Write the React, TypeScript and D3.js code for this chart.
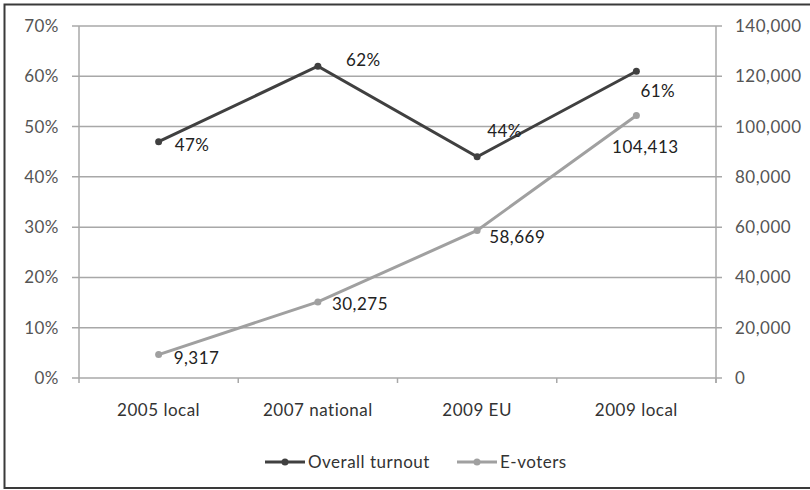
import React from "react";
import * as d3 from "d3";

const categories = ["2005 local", "2007 national", "2009 EU", "2009 local"];
const turnout = [0.47, 0.62, 0.44, 0.61];
const eVoters = [9317, 30275, 58669, 104413];
const leftTicks = [0, 0.1, 0.2, 0.3, 0.4, 0.5, 0.6, 0.7];
const rightTicks = [0, 20000, 40000, 60000, 80000, 100000, 120000, 140000];
const seriesNames = ["Overall turnout", "E-voters"];

const W = 810;
const H = 490;
const FONT = "Lato, 'Open Sans', sans-serif";
const FS = 17;
const LS = 0.5;
const DARK = "#404040";
const LIGHT = "#a0a0a0";
const GRID = "#a8a8a8";
const TICK_TEXT = "#555";

// label placement per point: [dx, dy, anchor]
const turnoutLabelPos: [number, number, string][] = [
  [16, 3, "start"],
  [28, -6, "start"],
  [10, -26, "start"],
  [4, 20, "start"],
];
const eVoterLabelPos: [number, number, string][] = [
  [15, 3, "start"],
  [14, 2, "start"],
  [12, 7, "start"],
  [9, 32, "middle"],
];

export default function App() {
  const left = 79;
  const right = 716;
  const top = 26;
  const bottom = 378;

  const x = d3.scaleBand<string>().domain(categories).range([left, right]);
  const yL = d3.scaleLinear().domain([0, 0.7]).range([bottom, top]);
  const yR = d3.scaleLinear().domain([0, 140000]).range([bottom, top]);
  const cx = (c: string) => (x(c) as number) + x.bandwidth() / 2;

  const turnoutLine = d3
    .line<number>()
    .x((_, i) => cx(categories[i]))
    .y((d) => yL(d));
  const eLine = d3
    .line<number>()
    .x((_, i) => cx(categories[i]))
    .y((d) => yR(d));

  const pct = d3.format(".0%");
  const num = d3.format(",");

  const boundaries = categories.map((c) => x(c) as number).concat([right]);

  return (
    <svg
      width={W}
      height={H}
      style={{ position: "absolute", left: 0, top: 0, background: "#fff" }}
      fontFamily={FONT}
      fontSize={FS}
      letterSpacing={LS}
    >
      <rect x={0} y={0} width={W} height={H} fill="#fff" />
      {/* outer frame (open on the right) */}
      <path d={`M${W} 4.5 H4.5 V488 H${W}`} fill="none" stroke="#3a3a3a" strokeWidth={2} />

      {/* gridlines */}
      {leftTicks.map((t) => (
        <line key={"g" + t} x1={left - 7} x2={right + 6} y1={yL(t)} y2={yL(t)} stroke={GRID} strokeWidth={1.5} />
      ))}
      {/* axes */}
      <line x1={left} x2={left} y1={top} y2={bottom} stroke={GRID} strokeWidth={1.5} />
      <line x1={right} x2={right} y1={top} y2={bottom + 5} stroke={GRID} strokeWidth={1.5} />
      {boundaries.map((b, i) => (
        <line key={"xt" + i} x1={b} x2={b} y1={bottom} y2={bottom + 5} stroke={GRID} strokeWidth={1.5} />
      ))}

      {/* left tick labels */}
      {leftTicks.map((t) => (
        <text key={"l" + t} x={59} y={yL(t)} dy="0.35em" textAnchor="end" fill={TICK_TEXT}>
          {pct(t)}
        </text>
      ))}
      {/* right tick labels */}
      {rightTicks.map((t) => (
        <text key={"r" + t} x={735} y={yR(t)} dy="0.35em" textAnchor="start" fill={TICK_TEXT}>
          {num(t)}
        </text>
      ))}
      {/* category labels */}
      {categories.map((c) => (
        <text key={c} x={cx(c)} y={410} dy="0.35em" textAnchor="middle" fill="#333">
          {c}
        </text>
      ))}

      {/* series lines */}
      <path d={eLine(eVoters) || ""} fill="none" stroke={LIGHT} strokeWidth={3} />
      {eVoters.map((v, i) => (
        <circle key={"ec" + i} cx={cx(categories[i])} cy={yR(v)} r={3.5} fill={LIGHT} />
      ))}
      <path d={turnoutLine(turnout) || ""} fill="none" stroke={DARK} strokeWidth={3} />
      {turnout.map((v, i) => (
        <circle key={"tc" + i} cx={cx(categories[i])} cy={yL(v)} r={3.5} fill={DARK} />
      ))}

      {/* data labels */}
      {turnout.map((v, i) => (
        <text
          key={"tl" + i}
          x={cx(categories[i]) + turnoutLabelPos[i][0]}
          y={yL(v) + turnoutLabelPos[i][1]}
          dy="0.35em"
          textAnchor={turnoutLabelPos[i][2]}
          fill="#222"
        >
          {pct(v)}
        </text>
      ))}
      {eVoters.map((v, i) => (
        <text
          key={"el" + i}
          x={cx(categories[i]) + eVoterLabelPos[i][0]}
          y={yR(v) + eVoterLabelPos[i][1]}
          dy="0.35em"
          textAnchor={eVoterLabelPos[i][2]}
          fill="#222"
        >
          {num(v)}
        </text>
      ))}

      {/* legend */}
      {[
        { name: seriesNames[0], color: DARK, x0: 265 },
        { name: seriesNames[1], color: LIGHT, x0: 457 },
      ].map((s) => (
        <g key={s.name}>
          <line x1={s.x0} x2={s.x0 + 40} y1={462} y2={462} stroke={s.color} strokeWidth={3} />
          <circle cx={s.x0 + 20} cy={462} r={3.5} fill={s.color} />
          <text x={s.x0 + 43} y={462} dy="0.35em" fill="#333">
            {s.name}
          </text>
        </g>
      ))}
    </svg>
  );
}
